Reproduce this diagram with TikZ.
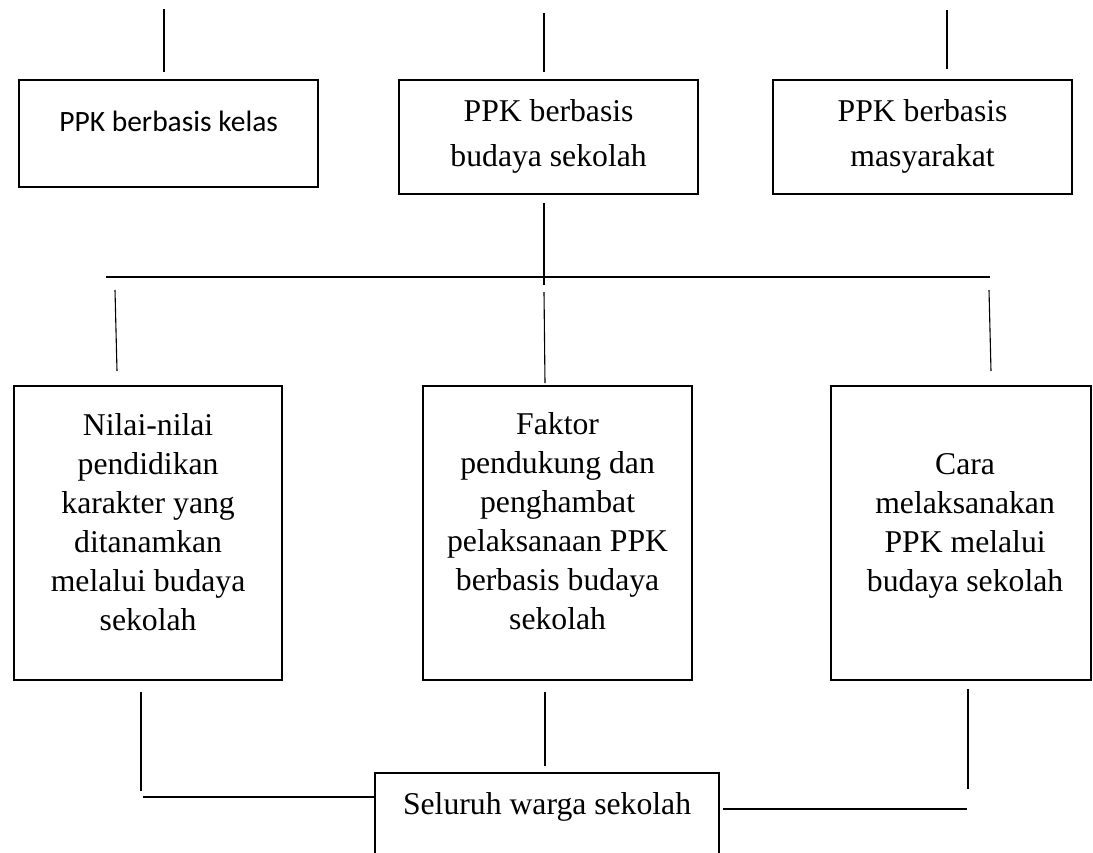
\documentclass[tikz,border=0pt]{standalone}
\usepackage{fontspec}
\setmainfont{Liberation Serif}
\newfontfamily\calib{Carlito}
\newcommand{\mybx}[6]{\parbox[c][#2pt][t]{#1pt}{\centering\fontsize{31.7pt}{#6pt}\selectfont\vspace*{#3pt}#4\rule{0pt}{26pt}#5}}
\tikzset{
  frame/.style={draw, line width=2.2pt, inner sep=0pt, anchor=north west},
  conn/.style={line width=1.1pt}
}
\begin{document}
\begin{tikzpicture}[x=1pt,y=-1pt]
\useasboundingbox (0,0) rectangle (1093,852);
\clip (0,0) rectangle (1093,852);
% top boxes
\node[frame] (kelas) at (18,79) {\parbox[c][107pt][t]{299pt}{\centering\calib\fontsize{29.5pt}{36pt}\selectfont\vspace*{25pt}\rule{0pt}{26pt}PPK berbasis kelas}};
\node[frame] (budaya) at (398,79) {\mybx{299}{114}{15}{}{PPK berbasis\\budaya sekolah}{45}};
\node[frame] (masy) at (772,79) {\mybx{299}{114}{15}{}{PPK berbasis\\masyarakat}{45}};
% lower boxes
\node[frame] (nilai) at (13,385) {\mybx{268}{294}{23}{}{Nilai-nilai\\pendidikan\\karakter yang\\ditanamkan\\melalui budaya\\sekolah}{39}};
\node[frame] (faktor) at (422,385) {\mybx{269}{294}{22}{}{Faktor\\pendukung dan\\penghambat\\pelaksanaan PPK\\berbasis budaya\\sekolah}{39}};
\node[frame] (cara) at (830,385) {\mybx{260}{294}{62}{\leftskip=8pt plus 1fil\rightskip=0pt plus 1fil}{Cara\\melaksanakan\\PPK melalui\\budaya sekolah}{39}};
% bottom box
\node[frame] (warga) at (374,772) {\mybx{344}{110}{15}{}{Seluruh warga sekolah}{39}};
% connector coordinates
\coordinate (a1) at (164,9);   \coordinate (a2) at (164,72);
\coordinate (b1) at (544,13);  \coordinate (b2) at (544,72);
\coordinate (c1) at (947,10);  \coordinate (c2) at (947,69);
\coordinate (d1) at (544,203); \coordinate (d2) at (544,285);
\coordinate (h1) at (106,277); \coordinate (h2) at (990,277);
\coordinate (l1) at (115,290); \coordinate (l2) at (117,371);
\coordinate (m1) at (544,292); \coordinate (m2) at (545,383);
\coordinate (r1) at (989,290); \coordinate (r2) at (991,371);
\coordinate (p1) at (141,692); \coordinate (p2) at (141,791);
\coordinate (p3) at (143,797);
\coordinate (q1) at (545,692); \coordinate (q2) at (545,766);
\coordinate (s1) at (968,689); \coordinate (s2) at (968,789);
\coordinate (s3) at (967,809); \coordinate (s4) at (723,809);
\draw[conn] (a1) -- (a2);
\draw[conn] (b1) -- (b2);
\draw[conn] (c1) -- (c2);
\draw[conn] (d1) -- (d2);
\draw[conn] (h1) -- (h2);
\draw[conn] (l1) -- (l2);
\draw[conn] (m1) -- (m2);
\draw[conn] (r1) -- (r2);
\draw[conn] (p1) -- (p2);
\draw[conn] (p3) -- (p3 -| warga.west);
\draw[conn] (q1) -- (q2);
\draw[conn] (s1) -- (s2);
\draw[conn] (s4) -- (s3);
\end{tikzpicture}
\end{document}
